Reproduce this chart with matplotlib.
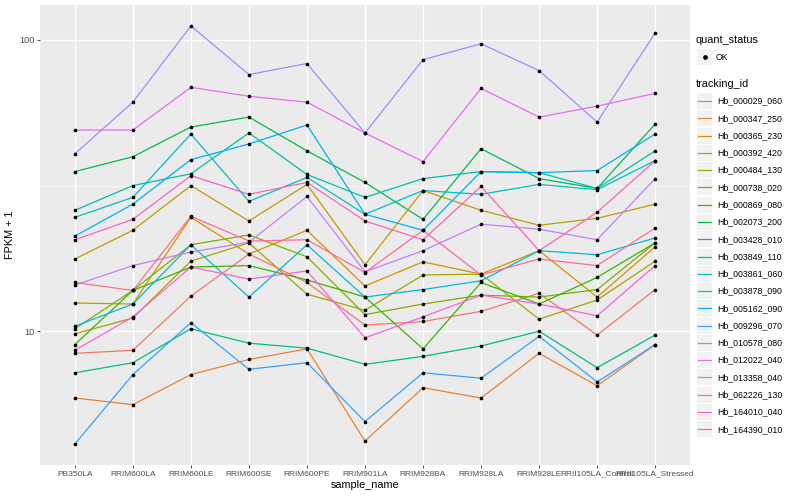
import matplotlib
matplotlib.use("Agg")
import matplotlib.pyplot as plt
import numpy as np
from matplotlib.patches import Rectangle
from matplotlib.lines import Line2D

plt.rcParams['font.family'] = ['Liberation Sans', 'DejaVu Sans']

# x categories
samples = ['PB350LA', 'RRIM600LA', 'RRIM600LE', 'RRIM600SE', 'RRIM600PE',
           'RRIM901LA', 'RRIM928BA', 'RRIM928LA', 'RRIM928LE',
           'RRII105LA_Control', 'RRII105LA_Stressed']

tracking_ids = ['Hb_000029_060', 'Hb_000347_250', 'Hb_000365_230', 'Hb_000392_420',
                'Hb_000484_130', 'Hb_000738_020', 'Hb_000869_080', 'Hb_002073_200',
                'Hb_003428_010', 'Hb_003849_110', 'Hb_003861_060', 'Hb_003878_090',
                'Hb_005162_090', 'Hb_009296_070', 'Hb_010578_080', 'Hb_012022_040',
                'Hb_013358_040', 'Hb_062226_130', 'Hb_164010_040', 'Hb_164390_010']

# FPKM + 1 per gene, one value per sample
hb_000029_060 = [8.4, 8.6, 13.2, 18.4, 14.7, 10.5, 10.8, 11.7, 13.5, 9.7, 13.9]
hb_000347_250 = [5.9, 5.6, 7.1, 8.0, 8.7, 4.2, 6.4, 5.9, 8.4, 6.5, 9.0]
hb_000365_230 = [12.5, 12.4, 24.6, 18.4, 22.2, 14.3, 17.3, 15.7, 18.9, 13.1, 19.5]
hb_000392_420 = [17.7, 22.2, 31.6, 23.9, 31.9, 16.9, 30.4, 26.0, 23.1, 24.4, 27.3]
hb_000484_130 = [9.8, 11.1, 17.4, 20.1, 13.4, 11.8, 15.6, 15.7, 11.0, 12.8, 17.4]
hb_000738_020 = [10.2, 13.8, 19.8, 21.4, 18.0, 11.4, 12.4, 13.3, 13.1, 13.9, 20.1]
hb_000869_080 = [9.0, 13.8, 16.6, 16.8, 15.0, 13.1, 8.7, 14.7, 12.4, 15.3, 20.1]
hb_002073_200 = [35.3, 39.7, 50.2, 54.3, 41.6, 32.4, 24.2, 42.3, 33.4, 30.9, 51.4]
hb_003428_010 = [7.2, 7.8, 10.2, 9.1, 8.75, 7.7, 8.2, 8.9, 10.0, 7.5, 9.7]
hb_003849_110 = [26.0, 31.6, 34.7, 47.9, 34.5, 28.8, 33.4, 35.3, 35.0, 30.9, 41.6]
hb_003861_060 = [24.6, 28.8, 47.5, 27.9, 33.7, 25.2, 30.4, 29.5, 31.9, 30.6, 38.5]
hb_003878_090 = [10.4, 12.4, 19.8, 13.1, 19.8, 13.1, 13.9, 14.9, 18.9, 18.3, 20.9]
hb_005162_090 = [21.2, 27.3, 38.8, 43.9, 51.0, 25.2, 22.2, 35.3, 35.0, 35.6, 47.5]
hb_009296_070 = [4.1, 7.1, 10.7, 7.4, 7.8, 4.9, 7.2, 6.9, 9.6, 6.7, 9.0]
hb_010578_080 = [40.6, 61.1, 111.6, 76.0, 82.9, 47.9, 85.5, 96.9, 78.4, 52.2, 105.6]
hb_012022_040 = [14.4, 16.8, 18.7, 20.2, 29.0, 16.0, 18.9, 23.3, 22.4, 20.6, 33.4]
hb_013358_040 = [49.0, 49.0, 68.7, 64.0, 61.1, 47.9, 38.2, 68.1, 54.3, 59.2, 65.5]
hb_062226_130 = [8.6, 11.2, 16.6, 15.1, 16.1, 9.5, 11.2, 13.3, 12.4, 11.3, 16.8]
hb_164010_040 = [20.6, 24.2, 34.2, 29.5, 32.4, 23.9, 20.6, 31.4, 18.9, 25.6, 38.5]
hb_164390_010 = [14.7, 13.8, 24.8, 20.4, 20.6, 15.9, 22.2, 15.6, 17.7, 16.8, 22.6]

series = [hb_000029_060, hb_000347_250, hb_000365_230, hb_000392_420, hb_000484_130,
          hb_000738_020, hb_000869_080, hb_002073_200, hb_003428_010, hb_003849_110,
          hb_003861_060, hb_003878_090, hb_005162_090, hb_009296_070, hb_010578_080,
          hb_012022_040, hb_013358_040, hb_062226_130, hb_164010_040, hb_164390_010]

# ggplot default hue palette for 20 levels
colors = ['#F8766D', '#EA8331', '#D89000', '#C09B00', '#A3A500', '#7CAE00', '#39B600',
          '#00BB4E', '#00BF7D', '#00C1A3', '#00BFC4', '#00BAE0', '#00B0F6', '#35A2FF',
          '#9590FF', '#C77CFF', '#E76BF3', '#FA62DB', '#FF62BC', '#FF6C91']

W, H = 800, 500
fig = plt.figure(figsize=(W / 100, H / 100), dpi=100)
ax = fig.add_axes([40 / W, 35 / H, 650 / W, 460 / H])
ax.set_facecolor('#EBEBEB')
for s in ax.spines.values():
    s.set_visible(False)

x = np.arange(len(samples))
for vals, col in zip(series, colors):
    ax.plot(x, vals, color=col, lw=0.9, zorder=2)
for vals in series:
    ax.scatter(x, vals, s=7, color='black', zorder=3, linewidths=0)

ax.set_yscale('log')
ax.set_yticks([10, 100])
ax.set_yticklabels(['10', '100'])
ax.set_yticks([10 ** 0.5, 10 ** 1.5], minor=True)
ax.set_yticklabels([], minor=True)
ax.set_xticks(x)
ax.set_xticklabels(samples)

# limits after the ticks, so the minor ticks do not widen the range
allv = np.concatenate([np.array(v) for v in series])
lmin, lmax = np.log10(allv.min()), np.log10(allv.max())
pad = 0.05 * (lmax - lmin)
ax.set_ylim(10 ** (lmin - pad), 10 ** (lmax + pad))
ax.set_xlim(-0.6, len(samples) - 0.4)

ax.tick_params(which='minor', length=0)
ax.tick_params(which='major', length=2.5, width=0.6, color='#333333',
               labelcolor='#4D4D4D', pad=1.5)
ax.tick_params(axis='x', labelsize=6.0)
ax.tick_params(axis='y', labelsize=6.6)

ax.grid(which='major', color='white', lw=1.0)
ax.grid(which='minor', axis='y', color='white', lw=0.5)
ax.set_axisbelow(True)

ax.set_xlabel('sample_name', fontsize=7.8, labelpad=2)
ax.set_ylabel('FPKM + 1', fontsize=7.8, labelpad=3)


# legend drawn by hand, ggplot style
def fx(px):
    return px / W


def fy(py):
    return 1 - py / H


fig.text(fx(696), fy(40), 'quant_status', fontsize=7.8, va='center')
fig.add_artist(Rectangle((fx(697), fy(65)), 15 / W, 16 / H, transform=fig.transFigure,
                         facecolor='#F2F2F2', edgecolor='none'))
fig.add_artist(Line2D([fx(704.5)], [fy(57)], marker='o', ms=2.4, color='black',
                      transform=fig.transFigure))
fig.text(fx(716), fy(57), 'OK', fontsize=6.3, va='center')

fig.text(fx(696), fy(84), 'tracking_id', fontsize=7.8, va='center')
for i, (tid, col) in enumerate(zip(tracking_ids, colors)):
    yc = 101 + i * 17.28
    fig.add_artist(Rectangle((fx(697), fy(yc + 8)), 15 / W, 16 / H,
                             transform=fig.transFigure, facecolor='#F2F2F2',
                             edgecolor='none'))
    fig.add_artist(Line2D([fx(698), fx(711)], [fy(yc), fy(yc)], color=col, lw=0.9,
                          transform=fig.transFigure))
    fig.text(fx(717), fy(yc), tid, fontsize=6.3, va='center')

fig.savefig('out.png', dpi=100)
